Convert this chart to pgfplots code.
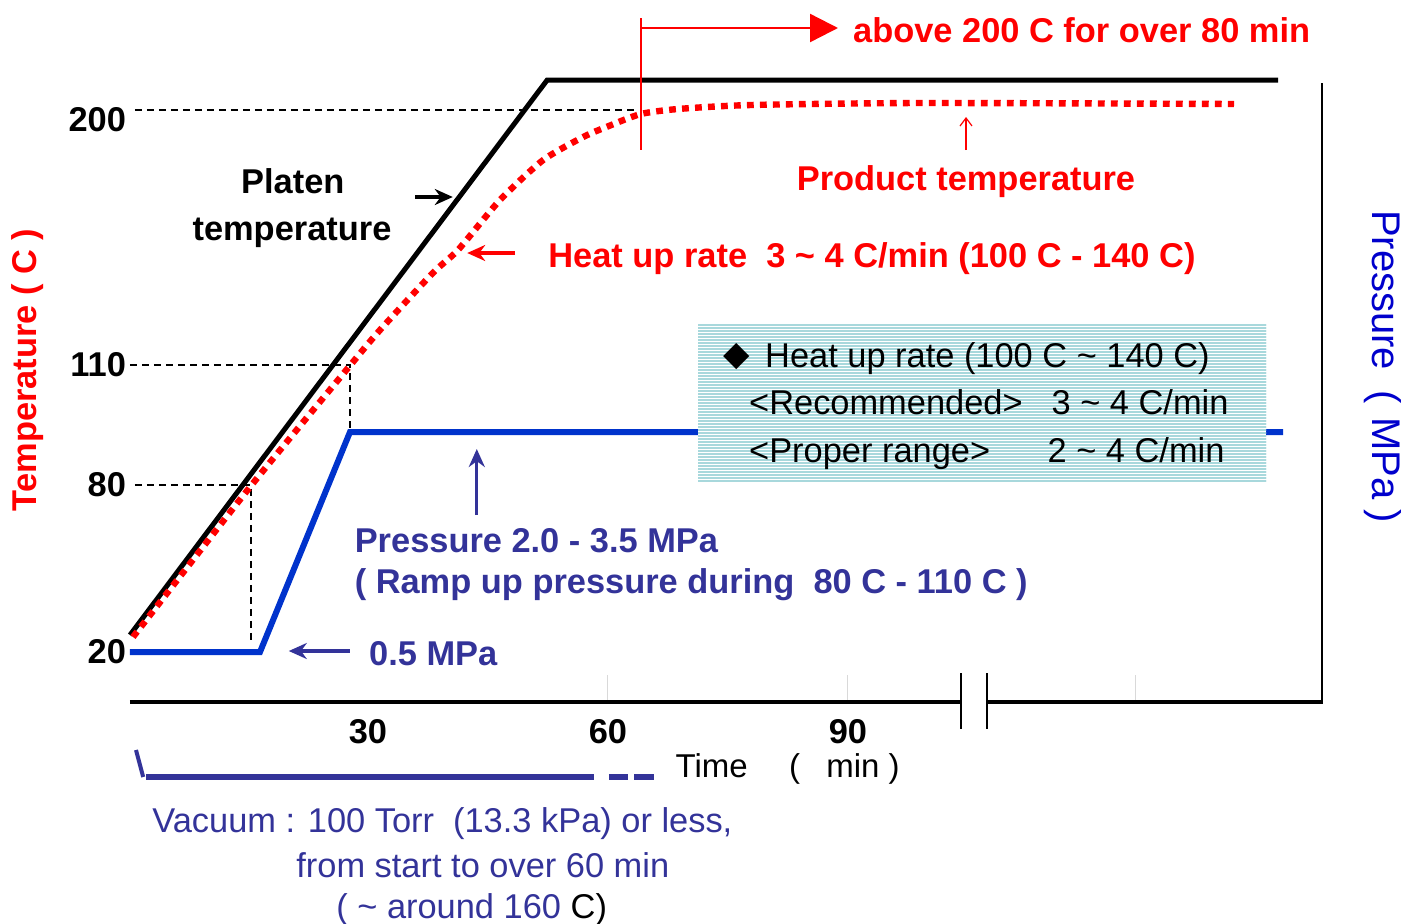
\documentclass[border=0pt]{standalone}
\usepackage{fontspec}
\setmainfont{Liberation Sans}
\newfontfamily\dejavu{DejaVu Sans}
\usepackage{pgfplots}
\pgfplotsset{compat=1.18}
\usetikzlibrary{arrows.meta,patterns}
\definecolor{pred}{RGB}{255,0,0}
\definecolor{pblue}{RGB}{0,51,204}
\definecolor{ppurp}{RGB}{51,51,153}
\definecolor{plabel}{RGB}{0,0,204}
\definecolor{hatch}{RGB}{168,216,220}
\pgfdeclarepatternformonly{densehlines}{\pgfpoint{-0.5pt}{0pt}}{\pgfpoint{3.5pt}{1.5pt}}{\pgfpoint{3pt}{1.5pt}}{%
 \pgfsetlinewidth{0.75pt}%
 \pgfpathmoveto{\pgfpoint{-0.5pt}{0.375pt}}%
 \pgfpathlineto{\pgfpoint{3.5pt}{0.375pt}}%
 \pgfusepath{stroke}}
\newcommand\fs{\fontsize{17.2}{20.6}\selectfont}
\begin{document}
\begin{tikzpicture}
\begin{axis}[
 scale only axis, width=597pt, height=309.5pt,
 xmin=0, xmax=149.25, ymin=0, ymax=619,
 clip=false,
 axis line style={draw=none},
 tick style={draw=none},
 xtick={30,60,90},
 ytick={50,217,337,592},
 yticklabels={20,80,110,\raisebox{-10.7pt}[0pt][0pt]{200}},
 ticklabel style={font=\fs\bfseries},
 /pgf/number format/assume math mode=true,
 xticklabel style={yshift=-5pt},
 yticklabel style={xshift=2.5pt},
]
\coordinate (bl) at (axis cs:-16,-221);
\coordinate (tr) at (axis cs:161.5,702);
% faint grid stubs
\draw[gray!30, line width=0.6pt] (axis cs:59.9,0) -- (axis cs:59.9,27);
\draw[gray!30, line width=0.6pt] (axis cs:89.9,0) -- (axis cs:89.9,27);
\draw[gray!30, line width=0.6pt] (axis cs:125.9,0) -- (axis cs:125.9,27);
% helper dashed lines
\addplot[black, line width=0.7pt, dash pattern=on 3.6pt off 2.4pt] coordinates {(0.875,592) (63.5,592)};
\addplot[black, line width=0.7pt, dash pattern=on 3.6pt off 2.4pt] coordinates {(0.25,337) (27.75,337) (27.75,272)};
\addplot[black, line width=0.7pt, dash pattern=on 3.6pt off 2.4pt] coordinates {(0.875,217) (15.4,217) (15.4,59)};
% pressure
\addplot[pblue, line width=3pt] coordinates {(0.25,50) (16.5,50) (27.75,270) (144.4,270)};
% platen
\addplot[black, line width=2.5pt] coordinates {(0.25,67) (52.4,622) (143.75,622)};
% product temperature
\addplot[pred, line width=3.2pt, dash pattern=on 3.4pt off 3.1pt, smooth, tension=0.4] coordinates {
 (0.625,65) (15.25,215) (27.5,334) (31.5,372) (38.1,429) (41.25,452) (46.5,502) (51.9,542) (56.9,565) (60.1,576) (64.1,588) (68.75,593) (77.9,597) (99.1,599) (138.25,598)};
% time axis with break
\draw[line width=2pt] (axis cs:0.25,0) -- (axis cs:104.125,0);
\draw[line width=2pt] (axis cs:107.375,0) -- (axis cs:149.4,0);
\draw[line width=1.3pt] (axis cs:104.125,29) -- (axis cs:104.125,-27);
\draw[line width=1.3pt] (axis cs:107.375,29) -- (axis cs:107.375,-27);
\draw[line width=1.3pt] (axis cs:149.25,0) -- (axis cs:149.25,619);
% info box
\fill[white] (axis cs:71.25,221) rectangle (axis cs:142.25,379);
\fill[pattern=densehlines, pattern color=hatch] (axis cs:71.25,221) rectangle (axis cs:142.25,379);
\node[font=\dejavu\fs] at (axis cs:76.1,345) {◆};
\node[anchor=base west, inner sep=0, font=\fs] at (axis cs:79.6,335) {Heat up rate (100 C \textasciitilde{} 140 C)};
\node[anchor=base west, inner sep=0, font=\fs] at (axis cs:77.6,288) {<Recommended>};
\node[anchor=base west, inner sep=0, font=\fs] at (axis cs:115.4,288) {3 \textasciitilde{} 4 C/min};
\node[anchor=base west, inner sep=0, font=\fs] at (axis cs:77.6,240) {<Proper range>};
\node[anchor=base west, inner sep=0, font=\fs] at (axis cs:114.9,240) {2 \textasciitilde{} 4 C/min};
% vacuum
\draw[ppurp, line width=2pt] (axis cs:1.0,-48) -- (axis cs:1.9,-75);
\draw[ppurp, line width=3pt] (axis cs:2.25,-75) -- (axis cs:58.25,-75);
\draw[ppurp, line width=3pt] (axis cs:60.1,-75) -- (axis cs:62.5,-75);
\draw[ppurp, line width=3pt] (axis cs:63.25,-75) -- (axis cs:65.75,-75);
% annotations: arrows
\draw[black, line width=1.6pt, -{Stealth[length=9pt,width=8pt]}] (axis cs:35.9,505) -- (axis cs:40.6,505);
\draw[pred, line width=1.6pt, -{Stealth[length=9pt,width=8pt]}] (axis cs:48.4,449) -- (axis cs:42.4,449);
\draw[pred, line width=0.6pt, -{Straight Barb[length=4pt,width=6pt]}] (axis cs:104.75,552) -- (axis cs:104.75,585);
\draw[pred, line width=1.2pt] (axis cs:64.1,684) -- (axis cs:64.1,552);
\draw[pred, line width=1.2pt, -{Triangle[length=14pt,width=14pt]}] (axis cs:64.1,674) -- (axis cs:88.75,674);
\draw[ppurp, line width=1.6pt, -{Stealth[length=9pt,width=8pt]}] (axis cs:43.6,187) -- (axis cs:43.6,253);
\draw[ppurp, line width=1.6pt, -{Stealth[length=9pt,width=8pt]}] (axis cs:27.75,51) -- (axis cs:20.1,51);
% texts
\node[anchor=base, inner sep=0, font=\fs\bfseries] at (axis cs:20.6,509) {Platen};
\node[anchor=base, inner sep=0, font=\fs\bfseries] at (axis cs:20.5,462) {temperature};
\node[anchor=base west, inner sep=0, font=\fs\bfseries, text=pred] at (axis cs:52.5,435) {Heat up rate\ \ 3 \textasciitilde{} 4 C/min (100 C - 140 C)};
\node[anchor=base, inner sep=0, font=\fs\bfseries, text=pred] at (axis cs:104.75,512) {Product temperature};
\node[anchor=base west, inner sep=0, font=\fs\bfseries, text=pred] at (axis cs:90.6,660) {above 200 C for over 80 min};
\node[anchor=base west, inner sep=0, font=\fs\bfseries, text=ppurp] at (axis cs:28.3,150) {Pressure 2.0 - 3.5 MPa};
\node[anchor=base west, inner sep=0, font=\fs\bfseries, text=ppurp] at (axis cs:28.3,109) {( Ramp up pressure during\ \ 80 C - 110 C )};
\node[anchor=base west, inner sep=0, font=\fs\bfseries, text=ppurp] at (axis cs:30.1,37) {0.5 MPa};
\node[anchor=base west, inner sep=0, font=\fontsize{16.5}{20}\selectfont] at (axis cs:68.4,-75) {Time};
\node[anchor=base west, inner sep=0, font=\fontsize{16.5}{20}\selectfont] at (axis cs:82.6,-75) {(};
\node[anchor=base west, inner sep=0, font=\fontsize{16.5}{20}\selectfont] at (axis cs:87.25,-75) {min )};
\node[anchor=base west, inner sep=0, font=\fs, text=ppurp] at (axis cs:3.0,-130) {Vacuum : 100 Torr\ \ (13.3 kPa) or less,};
\node[anchor=base west, inner sep=0, font=\fs, text=ppurp] at (axis cs:21,-175) {from start to over 60 min};
\node[anchor=base west, inner sep=0, font=\fs, text=ppurp] at (axis cs:26,-216) {( \textasciitilde{} around 160 \textcolor{black}{C)}};
\node[rotate=90, anchor=base, inner sep=0, font=\fs\bfseries, text=pred] at (axis cs:-11.4,332) {Temperature ( C )};
\node[rotate=-90, anchor=base, inner sep=0, font=\fontsize{20}{24}\selectfont, text=plabel] at (axis cs:155.5,335.5) {Pressure\hspace{0.5em}(\hspace{0.35em}MPa\hspace{0.25em})};
\end{axis}
\pgfresetboundingbox
\path (bl) rectangle (tr);
\end{tikzpicture}
\end{document}
